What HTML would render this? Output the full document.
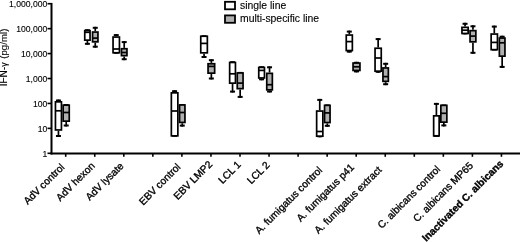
<!DOCTYPE html>
<html><head><meta charset="utf-8"><style>
html,body{margin:0;padding:0;background:#fff;width:520px;height:242px;overflow:hidden}
svg{display:block;filter:grayscale(1) blur(0.3px)}
text{font-family:"Liberation Sans",sans-serif;fill:#000;stroke:#000;stroke-width:0.35px}
</style></head><body>
<svg width="520" height="242" viewBox="0 0 520 242">
<line x1="51.5" y1="2.9" x2="51.5" y2="154.5" stroke="#000" stroke-width="2"/>
<line x1="47.5" y1="153.30" x2="51" y2="153.30" stroke="#000" stroke-width="1.6"/>
<text x="47.3" y="156.70" text-anchor="end" font-size="8.6" style="stroke-width:0.12px">1</text>
<line x1="47.5" y1="128.37" x2="51" y2="128.37" stroke="#000" stroke-width="1.6"/>
<text x="47.3" y="131.77" text-anchor="end" font-size="8.6" style="stroke-width:0.12px">10</text>
<line x1="47.5" y1="103.44" x2="51" y2="103.44" stroke="#000" stroke-width="1.6"/>
<text x="47.3" y="106.84" text-anchor="end" font-size="8.6" style="stroke-width:0.12px">100</text>
<line x1="47.5" y1="78.51" x2="51" y2="78.51" stroke="#000" stroke-width="1.6"/>
<text x="47.3" y="81.91" text-anchor="end" font-size="8.6" style="stroke-width:0.12px">1,000</text>
<line x1="47.5" y1="53.58" x2="51" y2="53.58" stroke="#000" stroke-width="1.6"/>
<text x="47.3" y="56.98" text-anchor="end" font-size="8.6" style="stroke-width:0.12px">10,000</text>
<line x1="47.5" y1="28.65" x2="51" y2="28.65" stroke="#000" stroke-width="1.6"/>
<text x="47.3" y="32.05" text-anchor="end" font-size="8.6" style="stroke-width:0.12px">100,000</text>
<line x1="47.5" y1="3.72" x2="51" y2="3.72" stroke="#000" stroke-width="1.6"/>
<text x="47.3" y="7.12" text-anchor="end" font-size="8.6" style="stroke-width:0.12px">1,000,000</text>
<line x1="50.5" y1="153.5" x2="520" y2="153.5" stroke="#000" stroke-width="2"/>
<line x1="65.70" y1="153.5" x2="65.70" y2="156.8" stroke="#000" stroke-width="1.6"/>
<line x1="94.75" y1="153.5" x2="94.75" y2="156.8" stroke="#000" stroke-width="1.6"/>
<line x1="123.80" y1="153.5" x2="123.80" y2="156.8" stroke="#000" stroke-width="1.6"/>
<line x1="152.85" y1="153.5" x2="152.85" y2="156.8" stroke="#000" stroke-width="1.6"/>
<line x1="181.90" y1="153.5" x2="181.90" y2="156.8" stroke="#000" stroke-width="1.6"/>
<line x1="210.95" y1="153.5" x2="210.95" y2="156.8" stroke="#000" stroke-width="1.6"/>
<line x1="240.00" y1="153.5" x2="240.00" y2="156.8" stroke="#000" stroke-width="1.6"/>
<line x1="269.05" y1="153.5" x2="269.05" y2="156.8" stroke="#000" stroke-width="1.6"/>
<line x1="298.10" y1="153.5" x2="298.10" y2="156.8" stroke="#000" stroke-width="1.6"/>
<line x1="327.15" y1="153.5" x2="327.15" y2="156.8" stroke="#000" stroke-width="1.6"/>
<line x1="356.20" y1="153.5" x2="356.20" y2="156.8" stroke="#000" stroke-width="1.6"/>
<line x1="385.25" y1="153.5" x2="385.25" y2="156.8" stroke="#000" stroke-width="1.6"/>
<line x1="414.30" y1="153.5" x2="414.30" y2="156.8" stroke="#000" stroke-width="1.6"/>
<line x1="443.35" y1="153.5" x2="443.35" y2="156.8" stroke="#000" stroke-width="1.6"/>
<line x1="472.40" y1="153.5" x2="472.40" y2="156.8" stroke="#000" stroke-width="1.6"/>
<line x1="501.45" y1="153.5" x2="501.45" y2="156.8" stroke="#000" stroke-width="1.6"/>
<line x1="58.45" y1="99.50" x2="58.45" y2="101.00" stroke="#000" stroke-width="1.7"/>
<line x1="55.95" y1="100.50" x2="60.95" y2="100.50" stroke="#000" stroke-width="2"/>
<line x1="58.45" y1="130.80" x2="58.45" y2="137.00" stroke="#000" stroke-width="1.7"/>
<line x1="55.95" y1="136.00" x2="60.95" y2="136.00" stroke="#000" stroke-width="2"/>
<rect x="55.45" y="101.85" width="6.00" height="28.10" fill="#fff" stroke="#000" stroke-width="1.7"/>
<line x1="55.45" y1="110.80" x2="61.45" y2="110.80" stroke="#000" stroke-width="1.7"/>
<line x1="87.40" y1="29.20" x2="87.40" y2="29.80" stroke="#000" stroke-width="1.7"/>
<line x1="84.90" y1="30.20" x2="89.90" y2="30.20" stroke="#000" stroke-width="2"/>
<line x1="87.40" y1="41.00" x2="87.40" y2="44.80" stroke="#000" stroke-width="1.7"/>
<line x1="84.90" y1="43.80" x2="89.90" y2="43.80" stroke="#000" stroke-width="2"/>
<rect x="84.75" y="30.65" width="5.30" height="9.50" fill="#fff" stroke="#000" stroke-width="1.7"/>
<line x1="84.75" y1="32.30" x2="90.05" y2="32.30" stroke="#000" stroke-width="1.7"/>
<line x1="116.25" y1="34.10" x2="116.25" y2="36.20" stroke="#000" stroke-width="1.7"/>
<line x1="113.75" y1="35.10" x2="118.75" y2="35.10" stroke="#000" stroke-width="2"/>
<line x1="116.25" y1="53.60" x2="116.25" y2="53.80" stroke="#000" stroke-width="1.7"/>
<line x1="113.75" y1="52.80" x2="118.75" y2="52.80" stroke="#000" stroke-width="2"/>
<rect x="113.05" y="37.05" width="6.40" height="15.70" fill="#fff" stroke="#000" stroke-width="1.7"/>
<line x1="113.05" y1="49.00" x2="119.45" y2="49.00" stroke="#000" stroke-width="1.7"/>
<line x1="174.60" y1="90.20" x2="174.60" y2="92.00" stroke="#000" stroke-width="1.7"/>
<line x1="172.10" y1="91.20" x2="177.10" y2="91.20" stroke="#000" stroke-width="2"/>
<line x1="174.60" y1="136.70" x2="174.60" y2="136.80" stroke="#000" stroke-width="1.7"/>
<line x1="172.10" y1="135.80" x2="177.10" y2="135.80" stroke="#000" stroke-width="2"/>
<rect x="171.35" y="92.85" width="6.50" height="43.00" fill="#fff" stroke="#000" stroke-width="1.7"/>
<line x1="171.35" y1="111.00" x2="177.85" y2="111.00" stroke="#000" stroke-width="1.7"/>
<line x1="204.05" y1="35.20" x2="204.05" y2="35.40" stroke="#000" stroke-width="1.7"/>
<line x1="201.55" y1="36.20" x2="206.55" y2="36.20" stroke="#000" stroke-width="2"/>
<line x1="204.05" y1="53.70" x2="204.05" y2="58.00" stroke="#000" stroke-width="1.7"/>
<line x1="201.55" y1="57.00" x2="206.55" y2="57.00" stroke="#000" stroke-width="2"/>
<rect x="200.75" y="36.25" width="6.60" height="16.60" fill="#fff" stroke="#000" stroke-width="1.7"/>
<line x1="200.75" y1="43.40" x2="207.35" y2="43.40" stroke="#000" stroke-width="1.7"/>
<line x1="232.55" y1="61.20" x2="232.55" y2="61.60" stroke="#000" stroke-width="1.7"/>
<line x1="230.05" y1="62.20" x2="235.05" y2="62.20" stroke="#000" stroke-width="2"/>
<line x1="232.55" y1="84.00" x2="232.55" y2="92.60" stroke="#000" stroke-width="1.7"/>
<line x1="230.05" y1="91.60" x2="235.05" y2="91.60" stroke="#000" stroke-width="2"/>
<rect x="229.65" y="62.45" width="5.80" height="20.70" fill="#fff" stroke="#000" stroke-width="1.7"/>
<line x1="229.65" y1="73.80" x2="235.45" y2="73.80" stroke="#000" stroke-width="1.7"/>
<line x1="261.60" y1="66.20" x2="261.60" y2="66.60" stroke="#000" stroke-width="1.7"/>
<line x1="259.10" y1="67.20" x2="264.10" y2="67.20" stroke="#000" stroke-width="2"/>
<line x1="261.60" y1="78.80" x2="261.60" y2="80.30" stroke="#000" stroke-width="1.7"/>
<line x1="259.10" y1="79.30" x2="264.10" y2="79.30" stroke="#000" stroke-width="2"/>
<rect x="258.75" y="67.45" width="5.70" height="10.50" fill="#fff" stroke="#000" stroke-width="1.7"/>
<line x1="258.75" y1="70.40" x2="264.45" y2="70.40" stroke="#000" stroke-width="1.7"/>
<line x1="319.75" y1="98.90" x2="319.75" y2="110.20" stroke="#000" stroke-width="1.7"/>
<line x1="317.25" y1="99.90" x2="322.25" y2="99.90" stroke="#000" stroke-width="2"/>
<line x1="319.75" y1="137.00" x2="319.75" y2="137.30" stroke="#000" stroke-width="1.7"/>
<line x1="317.25" y1="136.30" x2="322.25" y2="136.30" stroke="#000" stroke-width="2"/>
<rect x="316.65" y="111.05" width="6.20" height="25.10" fill="#fff" stroke="#000" stroke-width="1.7"/>
<line x1="316.65" y1="131.50" x2="322.85" y2="131.50" stroke="#000" stroke-width="1.7"/>
<line x1="349.30" y1="30.60" x2="349.30" y2="34.20" stroke="#000" stroke-width="1.7"/>
<line x1="346.80" y1="31.60" x2="351.80" y2="31.60" stroke="#000" stroke-width="2"/>
<line x1="349.30" y1="51.40" x2="349.30" y2="52.60" stroke="#000" stroke-width="1.7"/>
<line x1="346.80" y1="51.60" x2="351.80" y2="51.60" stroke="#000" stroke-width="2"/>
<rect x="346.25" y="35.05" width="6.10" height="15.50" fill="#fff" stroke="#000" stroke-width="1.7"/>
<line x1="346.25" y1="41.60" x2="352.35" y2="41.60" stroke="#000" stroke-width="1.7"/>
<line x1="378.15" y1="38.10" x2="378.15" y2="47.40" stroke="#000" stroke-width="1.7"/>
<line x1="375.65" y1="39.10" x2="380.65" y2="39.10" stroke="#000" stroke-width="2"/>
<line x1="378.15" y1="72.00" x2="378.15" y2="72.80" stroke="#000" stroke-width="1.7"/>
<line x1="375.65" y1="71.80" x2="380.65" y2="71.80" stroke="#000" stroke-width="2"/>
<rect x="375.05" y="48.25" width="6.20" height="22.90" fill="#fff" stroke="#000" stroke-width="1.7"/>
<line x1="375.05" y1="58.00" x2="381.25" y2="58.00" stroke="#000" stroke-width="1.7"/>
<line x1="436.40" y1="102.90" x2="436.40" y2="115.00" stroke="#000" stroke-width="1.7"/>
<line x1="433.90" y1="103.90" x2="438.90" y2="103.90" stroke="#000" stroke-width="2"/>
<line x1="436.40" y1="136.70" x2="436.40" y2="136.80" stroke="#000" stroke-width="1.7"/>
<line x1="433.90" y1="135.80" x2="438.90" y2="135.80" stroke="#000" stroke-width="2"/>
<rect x="433.65" y="115.85" width="5.50" height="20.00" fill="#fff" stroke="#000" stroke-width="1.7"/>
<line x1="433.65" y1="135.80" x2="439.15" y2="135.80" stroke="#000" stroke-width="1.7"/>
<line x1="465.05" y1="22.80" x2="465.05" y2="26.50" stroke="#000" stroke-width="1.7"/>
<line x1="462.55" y1="23.80" x2="467.55" y2="23.80" stroke="#000" stroke-width="2"/>
<line x1="465.05" y1="34.30" x2="465.05" y2="34.40" stroke="#000" stroke-width="1.7"/>
<line x1="462.55" y1="33.40" x2="467.55" y2="33.40" stroke="#000" stroke-width="2"/>
<rect x="461.95" y="27.35" width="6.20" height="6.10" fill="#fff" stroke="#000" stroke-width="1.7"/>
<line x1="461.95" y1="30.20" x2="468.15" y2="30.20" stroke="#000" stroke-width="1.7"/>
<line x1="494.30" y1="25.60" x2="494.30" y2="33.20" stroke="#000" stroke-width="1.7"/>
<line x1="491.80" y1="26.60" x2="496.80" y2="26.60" stroke="#000" stroke-width="2"/>
<line x1="494.30" y1="50.50" x2="494.30" y2="50.60" stroke="#000" stroke-width="1.7"/>
<line x1="491.80" y1="49.60" x2="496.80" y2="49.60" stroke="#000" stroke-width="2"/>
<rect x="491.15" y="34.05" width="6.30" height="15.60" fill="#fff" stroke="#000" stroke-width="1.7"/>
<line x1="491.15" y1="42.40" x2="497.45" y2="42.40" stroke="#000" stroke-width="1.7"/>
<line x1="66.20" y1="104.00" x2="66.20" y2="104.30" stroke="#000" stroke-width="1.7"/>
<line x1="63.70" y1="105.00" x2="68.70" y2="105.00" stroke="#000" stroke-width="2"/>
<line x1="66.20" y1="122.00" x2="66.20" y2="126.50" stroke="#000" stroke-width="1.7"/>
<line x1="63.70" y1="125.50" x2="68.70" y2="125.50" stroke="#000" stroke-width="2"/>
<rect x="63.15" y="105.15" width="6.10" height="16.00" fill="#b0b0b0" stroke="#000" stroke-width="1.7"/>
<line x1="63.15" y1="112.50" x2="69.25" y2="112.50" stroke="#000" stroke-width="1.7"/>
<line x1="95.25" y1="26.80" x2="95.25" y2="31.20" stroke="#000" stroke-width="1.7"/>
<line x1="92.75" y1="27.80" x2="97.75" y2="27.80" stroke="#000" stroke-width="2"/>
<line x1="95.25" y1="42.70" x2="95.25" y2="47.70" stroke="#000" stroke-width="1.7"/>
<line x1="92.75" y1="46.70" x2="97.75" y2="46.70" stroke="#000" stroke-width="2"/>
<rect x="92.55" y="32.05" width="5.40" height="9.80" fill="#b0b0b0" stroke="#000" stroke-width="1.7"/>
<line x1="92.55" y1="38.10" x2="97.95" y2="38.10" stroke="#000" stroke-width="1.7"/>
<line x1="124.20" y1="41.10" x2="124.20" y2="47.90" stroke="#000" stroke-width="1.7"/>
<line x1="121.70" y1="42.10" x2="126.70" y2="42.10" stroke="#000" stroke-width="2"/>
<line x1="124.20" y1="56.50" x2="124.20" y2="60.20" stroke="#000" stroke-width="1.7"/>
<line x1="121.70" y1="59.20" x2="126.70" y2="59.20" stroke="#000" stroke-width="2"/>
<rect x="121.45" y="48.75" width="5.50" height="6.90" fill="#b0b0b0" stroke="#000" stroke-width="1.7"/>
<line x1="121.45" y1="52.50" x2="126.95" y2="52.50" stroke="#000" stroke-width="1.7"/>
<line x1="182.25" y1="104.00" x2="182.25" y2="104.10" stroke="#000" stroke-width="1.7"/>
<line x1="179.75" y1="105.00" x2="184.75" y2="105.00" stroke="#000" stroke-width="2"/>
<line x1="182.25" y1="123.30" x2="182.25" y2="126.60" stroke="#000" stroke-width="1.7"/>
<line x1="179.75" y1="125.60" x2="184.75" y2="125.60" stroke="#000" stroke-width="2"/>
<rect x="179.55" y="104.95" width="5.40" height="17.50" fill="#b0b0b0" stroke="#000" stroke-width="1.7"/>
<line x1="179.55" y1="112.50" x2="184.95" y2="112.50" stroke="#000" stroke-width="1.7"/>
<line x1="211.35" y1="59.20" x2="211.35" y2="62.90" stroke="#000" stroke-width="1.7"/>
<line x1="208.85" y1="60.20" x2="213.85" y2="60.20" stroke="#000" stroke-width="2"/>
<line x1="211.35" y1="74.00" x2="211.35" y2="79.50" stroke="#000" stroke-width="1.7"/>
<line x1="208.85" y1="78.50" x2="213.85" y2="78.50" stroke="#000" stroke-width="2"/>
<rect x="208.05" y="63.75" width="6.60" height="9.40" fill="#b0b0b0" stroke="#000" stroke-width="1.7"/>
<line x1="208.05" y1="66.40" x2="214.65" y2="66.40" stroke="#000" stroke-width="1.7"/>
<line x1="240.15" y1="71.90" x2="240.15" y2="72.10" stroke="#000" stroke-width="1.7"/>
<line x1="237.65" y1="72.90" x2="242.65" y2="72.90" stroke="#000" stroke-width="2"/>
<line x1="240.15" y1="89.50" x2="240.15" y2="97.90" stroke="#000" stroke-width="1.7"/>
<line x1="237.65" y1="96.90" x2="242.65" y2="96.90" stroke="#000" stroke-width="2"/>
<rect x="237.25" y="72.95" width="5.80" height="15.70" fill="#b0b0b0" stroke="#000" stroke-width="1.7"/>
<line x1="237.25" y1="83.10" x2="243.05" y2="83.10" stroke="#000" stroke-width="1.7"/>
<line x1="269.55" y1="66.30" x2="269.55" y2="72.50" stroke="#000" stroke-width="1.7"/>
<line x1="267.05" y1="67.30" x2="272.05" y2="67.30" stroke="#000" stroke-width="2"/>
<line x1="269.55" y1="90.70" x2="269.55" y2="92.50" stroke="#000" stroke-width="1.7"/>
<line x1="267.05" y1="91.50" x2="272.05" y2="91.50" stroke="#000" stroke-width="2"/>
<rect x="266.75" y="73.35" width="5.60" height="16.50" fill="#b0b0b0" stroke="#000" stroke-width="1.7"/>
<line x1="266.75" y1="84.70" x2="272.35" y2="84.70" stroke="#000" stroke-width="1.7"/>
<line x1="327.30" y1="104.40" x2="327.30" y2="104.50" stroke="#000" stroke-width="1.7"/>
<line x1="324.80" y1="105.40" x2="329.80" y2="105.40" stroke="#000" stroke-width="2"/>
<line x1="327.30" y1="123.40" x2="327.30" y2="126.80" stroke="#000" stroke-width="1.7"/>
<line x1="324.80" y1="125.80" x2="329.80" y2="125.80" stroke="#000" stroke-width="2"/>
<rect x="324.55" y="105.35" width="5.50" height="17.20" fill="#b0b0b0" stroke="#000" stroke-width="1.7"/>
<line x1="324.55" y1="112.90" x2="330.05" y2="112.90" stroke="#000" stroke-width="1.7"/>
<line x1="356.50" y1="61.80" x2="356.50" y2="62.20" stroke="#000" stroke-width="1.7"/>
<line x1="354.00" y1="62.80" x2="359.00" y2="62.80" stroke="#000" stroke-width="2"/>
<line x1="356.50" y1="71.30" x2="356.50" y2="72.40" stroke="#000" stroke-width="1.7"/>
<line x1="354.00" y1="71.40" x2="359.00" y2="71.40" stroke="#000" stroke-width="2"/>
<rect x="353.05" y="63.05" width="6.90" height="7.40" fill="#b0b0b0" stroke="#000" stroke-width="1.7"/>
<line x1="353.05" y1="66.80" x2="359.95" y2="66.80" stroke="#000" stroke-width="1.7"/>
<line x1="385.65" y1="62.80" x2="385.65" y2="67.10" stroke="#000" stroke-width="1.7"/>
<line x1="383.15" y1="63.80" x2="388.15" y2="63.80" stroke="#000" stroke-width="2"/>
<line x1="385.65" y1="82.20" x2="385.65" y2="85.20" stroke="#000" stroke-width="1.7"/>
<line x1="383.15" y1="84.20" x2="388.15" y2="84.20" stroke="#000" stroke-width="2"/>
<rect x="382.95" y="67.95" width="5.40" height="13.40" fill="#b0b0b0" stroke="#000" stroke-width="1.7"/>
<line x1="382.95" y1="76.60" x2="388.35" y2="76.60" stroke="#000" stroke-width="1.7"/>
<line x1="443.85" y1="104.40" x2="443.85" y2="104.50" stroke="#000" stroke-width="1.7"/>
<line x1="441.35" y1="105.40" x2="446.35" y2="105.40" stroke="#000" stroke-width="2"/>
<line x1="443.85" y1="123.00" x2="443.85" y2="126.40" stroke="#000" stroke-width="1.7"/>
<line x1="441.35" y1="125.40" x2="446.35" y2="125.40" stroke="#000" stroke-width="2"/>
<rect x="440.85" y="105.35" width="6.00" height="16.80" fill="#b0b0b0" stroke="#000" stroke-width="1.7"/>
<line x1="440.85" y1="113.30" x2="446.85" y2="113.30" stroke="#000" stroke-width="1.7"/>
<line x1="472.95" y1="25.30" x2="472.95" y2="29.80" stroke="#000" stroke-width="1.7"/>
<line x1="470.45" y1="26.30" x2="475.45" y2="26.30" stroke="#000" stroke-width="2"/>
<line x1="472.95" y1="42.70" x2="472.95" y2="53.80" stroke="#000" stroke-width="1.7"/>
<line x1="470.45" y1="52.80" x2="475.45" y2="52.80" stroke="#000" stroke-width="2"/>
<rect x="470.05" y="30.65" width="5.80" height="11.20" fill="#b0b0b0" stroke="#000" stroke-width="1.7"/>
<line x1="470.05" y1="36.10" x2="475.85" y2="36.10" stroke="#000" stroke-width="1.7"/>
<line x1="502.15" y1="35.70" x2="502.15" y2="37.20" stroke="#000" stroke-width="1.7"/>
<line x1="499.65" y1="36.70" x2="504.65" y2="36.70" stroke="#000" stroke-width="2"/>
<line x1="502.15" y1="57.00" x2="502.15" y2="67.90" stroke="#000" stroke-width="1.7"/>
<line x1="499.65" y1="66.90" x2="504.65" y2="66.90" stroke="#000" stroke-width="2"/>
<rect x="499.35" y="38.05" width="5.60" height="18.10" fill="#b0b0b0" stroke="#000" stroke-width="1.7"/>
<line x1="499.35" y1="42.80" x2="504.95" y2="42.80" stroke="#000" stroke-width="1.7"/>
<text transform="translate(65.00,167.80) rotate(-45)" text-anchor="end" font-size="10.2">AdV control</text>
<text transform="translate(95.40,166.40) rotate(-45)" text-anchor="end" font-size="10.2">AdV hexon</text>
<text transform="translate(124.15,166.65) rotate(-45)" text-anchor="end" font-size="10.2">AdV lysate</text>
<text transform="translate(181.20,167.60) rotate(-45)" text-anchor="end" font-size="10.2">EBV control</text>
<text transform="translate(212.90,164.90) rotate(-45)" text-anchor="end" font-size="10.2">EBV LMP2</text>
<text transform="translate(241.45,165.35) rotate(-45)" text-anchor="end" font-size="10.2">LCL 1</text>
<text transform="translate(270.15,165.65) rotate(-45)" text-anchor="end" font-size="10.2">LCL 2</text>
<text transform="translate(322.95,170.85) rotate(-45)" text-anchor="end" font-size="10.2">A. fumigatus control</text>
<text transform="translate(354.70,168.10) rotate(-45)" text-anchor="end" font-size="10.2">A. fumigatus p41</text>
<text transform="translate(382.25,170.55) rotate(-45)" text-anchor="end" font-size="10.2">A. fumigatus extract</text>
<text transform="translate(440.95,169.85) rotate(-45)" text-anchor="end" font-size="10.2">C. albicans control</text>
<text transform="translate(473.65,166.15) rotate(-45)" text-anchor="end" font-size="10.2">C. albicans MP65</text>
<text transform="translate(503.90,164.40) rotate(-45)" text-anchor="end" font-size="10.2" font-weight="bold">Inactivated C. albicans</text>
<text transform="translate(7.0,86.3) rotate(-90)" font-size="10" style="stroke-width:0.1px">IFN-<tspan font-size="9">γ</tspan></text>
<text transform="translate(7.0,28.6) rotate(-90)" text-anchor="end" font-size="9.7" style="stroke-width:0.1px">(pg/ml)</text>
<rect x="225" y="1.8" width="10" height="7.5" fill="#fff" stroke="#000" stroke-width="1.8"/>
<rect x="225" y="15.4" width="10" height="7.4" fill="#b0b0b0" stroke="#000" stroke-width="1.8"/>
<text x="240" y="8.7" font-size="10.4" style="stroke-width:0.12px">single line</text>
<text x="240" y="21.9" font-size="10.4" style="stroke-width:0.12px">multi-specific line</text>
</svg>
</body></html>
